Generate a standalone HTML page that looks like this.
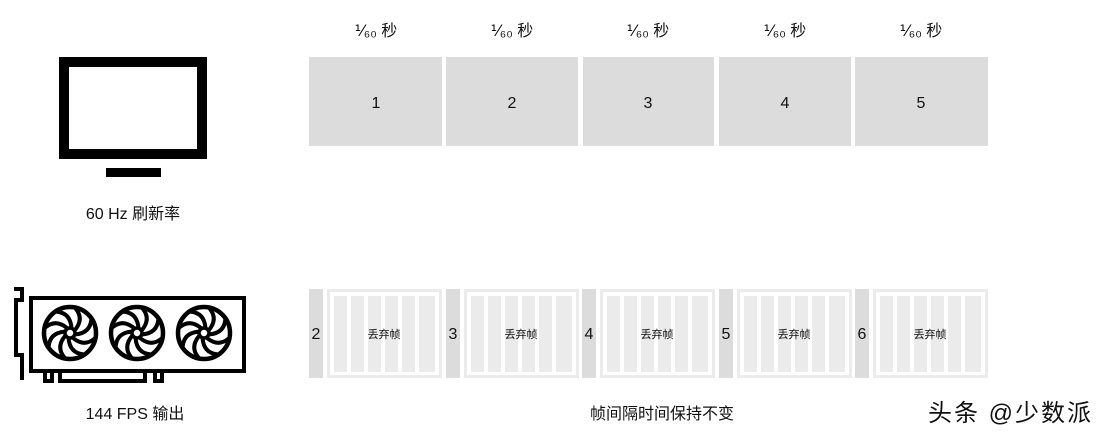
<!DOCTYPE html>
<html><head><meta charset="utf-8"><style>
html,body{margin:0;padding:0;background:#fff;}
svg{display:block;}
text{font-family:"Liberation Sans","Noto Sans CJK SC",sans-serif;fill:#111;}
</style></head><body>
<svg width="1120" height="441" viewBox="0 0 1120 441" xmlns="http://www.w3.org/2000/svg">
<defs>
<g id="fan">
<circle r="26" fill="none" stroke="#000" stroke-width="4.5"/>
<circle r="5" fill="none" stroke="#000" stroke-width="3.5"/>
<g fill="none" stroke="#000" stroke-width="4" stroke-linecap="round">
<path d="M5,-3 Q14,-14 6,-24"/>
<path d="M5,-3 Q14,-14 6,-24" transform="rotate(45)"/>
<path d="M5,-3 Q14,-14 6,-24" transform="rotate(90)"/>
<path d="M5,-3 Q14,-14 6,-24" transform="rotate(135)"/>
<path d="M5,-3 Q14,-14 6,-24" transform="rotate(180)"/>
<path d="M5,-3 Q14,-14 6,-24" transform="rotate(225)"/>
<path d="M5,-3 Q14,-14 6,-24" transform="rotate(270)"/>
<path d="M5,-3 Q14,-14 6,-24" transform="rotate(315)"/>
</g>
</g>
<g id="drop">
<rect x="0" y="0" width="14" height="89" fill="#dcdcdc"/>
<rect x="19.5" y="1.5" width="112" height="86" fill="none" stroke="#ebebeb" stroke-width="3"/>
<rect x="25" y="7" width="13" height="76" fill="#ebebeb"/>
<rect x="42" y="7" width="13" height="76" fill="#ebebeb"/>
<rect x="59" y="7" width="13" height="76" fill="#ebebeb"/>
<rect x="76" y="7" width="13" height="76" fill="#ebebeb"/>
<rect x="93" y="7" width="13" height="76" fill="#ebebeb"/>
<rect x="110" y="7" width="16" height="76" fill="#ebebeb"/>
<text x="75" y="49" font-size="11" text-anchor="middle">丢弃帧</text>
</g>
</defs>

<!-- monitor -->
<rect x="64" y="62" width="138" height="92" fill="none" stroke="#000" stroke-width="10"/>
<rect x="106" y="168" width="55" height="9" fill="#000"/>
<text x="133" y="219" font-size="16" text-anchor="middle">60 Hz 刷新率</text>

<!-- top row -->
<g font-size="16" text-anchor="middle">
<text x="376" y="36">⅟₆₀ 秒</text>
<text x="512" y="36">⅟₆₀ 秒</text>
<text x="648" y="36">⅟₆₀ 秒</text>
<text x="785" y="36">⅟₆₀ 秒</text>
<text x="921" y="36">⅟₆₀ 秒</text>
</g>
<g fill="#dcdcdc">
<rect x="309" y="57" width="133" height="89"/>
<rect x="446" y="57" width="132" height="89"/>
<rect x="583" y="57" width="131" height="89"/>
<rect x="719" y="57" width="132" height="89"/>
<rect x="855" y="57" width="133" height="89"/>
</g>
<g font-size="16" text-anchor="middle">
<text x="376" y="108">1</text>
<text x="512" y="108">2</text>
<text x="648" y="108">3</text>
<text x="785" y="108">4</text>
<text x="921" y="108">5</text>
</g>

<!-- GPU -->
<g fill="none" stroke="#000" stroke-width="4">
<path d="M14,289 H22 V300 H16 V355 H22 V380"/>
<rect x="31" y="298" width="213" height="73"/>
<path d="M45,373 V381 H52 V373"/>
<path d="M60,373 V381 H145 V373"/>
<path d="M155,373 V381 H162 V373"/>
</g>
<use href="#fan" x="70" y="333"/>
<use href="#fan" x="137" y="333"/>
<use href="#fan" x="204" y="333"/>
<text x="135" y="419" font-size="16" text-anchor="middle">144 FPS 输出</text>

<!-- bottom row -->
<use href="#drop" x="309" y="289"/>
<use href="#drop" x="446" y="289"/>
<use href="#drop" x="582" y="289"/>
<use href="#drop" x="719" y="289"/>
<use href="#drop" x="855" y="289"/>
<g font-size="16" text-anchor="middle">
<text x="316" y="339">2</text>
<text x="453" y="339">3</text>
<text x="589" y="339">4</text>
<text x="726" y="339">5</text>
<text x="862" y="339">6</text>
</g>
<text x="662" y="419" font-size="16" text-anchor="middle">帧间隔时间保持不变</text>
<text x="928" y="421" font-size="24" letter-spacing="2">头条 @少数派</text>
</svg>
</body></html>
